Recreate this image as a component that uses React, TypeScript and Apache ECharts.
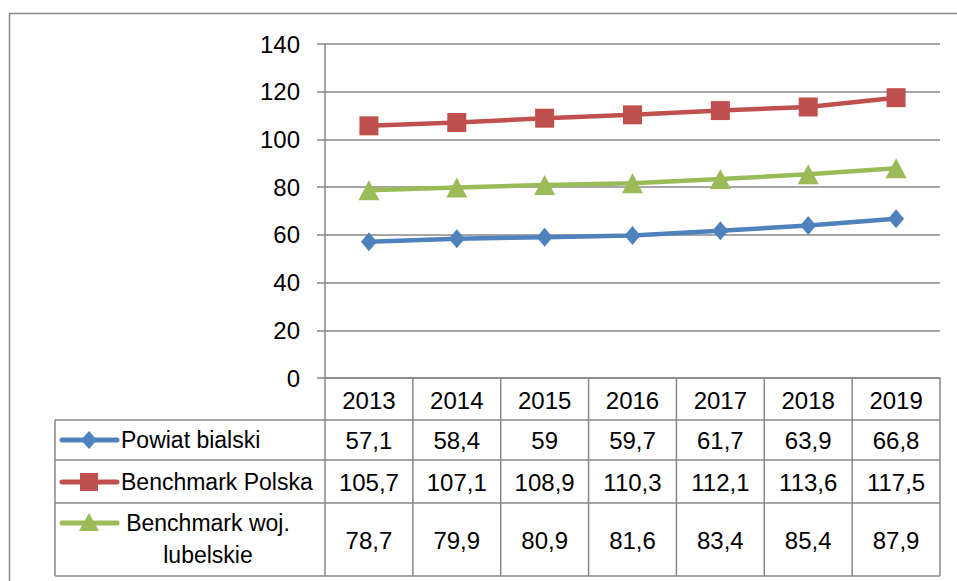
import React, { useEffect, useRef } from "react";
import * as echarts from "echarts";

const categories = ["2013", "2014", "2015", "2016", "2017", "2018", "2019"];
const powiatBialski = [57.1, 58.4, 59, 59.7, 61.7, 63.9, 66.8];
const benchmarkPolska = [105.7, 107.1, 108.9, 110.3, 112.1, 113.6, 117.5];
const benchmarkLubelskie = [78.7, 79.9, 80.9, 81.6, 83.4, 85.4, 87.9];
const seriesNames = ["Powiat bialski", "Benchmark Polska", "Benchmark woj.\nlubelskie"];
const seriesColors = ["#4F81BD", "#C0504D", "#9BBB59"];
const yMin = 0;
const yMax = 140;
const yInterval = 20;

const FONT = "Liberation Sans";
const FS = 23;
const FSN = 24;
const GRID_L = 325;
const GRID_R = 940;
const GRID_T = 44;
const GRID_B = 378;
const TABLE_L = 55;
const ROW_LINES = [420, 460, 503, 576];
const ROW_CENTERS = [440, 482, 540];
const LINE_COLOR = "#888888";

const fmt = (v: number) => String(v).replace(".", ",");

export default function App() {
  const ref = useRef<HTMLDivElement>(null);
  useEffect(() => {
    if (!ref.current) return;
    const chart = echarts.init(ref.current, undefined, { renderer: "svg" });
    const allSeries = [powiatBialski, benchmarkPolska, benchmarkLubelskie];
    const symbols = ["diamond", "rect", "triangle"];
    const symbolSizes: any[] = [[16, 19], 19, [21, 20]];
    const colW = (GRID_R - GRID_L) / categories.length;
    const graphics: any[] = [];
    const stroke = { stroke: LINE_COLOR, lineWidth: 1.5 };
    graphics.push({
      type: "rect",
      silent: true,
      shape: { x: 9.5, y: 13.5, width: 1000, height: 1000 },
      style: { fill: "none", stroke: "#8a8a8a", lineWidth: 1.5 },
    });
    ROW_LINES.forEach((y) => {
      graphics.push({ type: "line", silent: true, shape: { x1: TABLE_L, y1: y, x2: GRID_R, y2: y }, style: stroke });
    });
    graphics.push({ type: "line", silent: true, shape: { x1: TABLE_L, y1: ROW_LINES[0], x2: TABLE_L, y2: ROW_LINES[3] }, style: stroke });
    for (let i = 0; i <= categories.length; i++) {
      const x = GRID_L + i * colW;
      graphics.push({ type: "line", silent: true, shape: { x1: x, y1: GRID_B, x2: x, y2: ROW_LINES[3] }, style: stroke });
    }
    categories.forEach((c, i) => {
      graphics.push({
        type: "text",
        silent: true,
        x: GRID_L + (i + 0.5) * colW,
        y: 400,
        style: { text: c, font: `${FSN}px "${FONT}"`, fill: "#000", align: "center", verticalAlign: "middle" },
      });
    });
    allSeries.forEach((arr, r) => {
      arr.forEach((v, i) => {
        graphics.push({
          type: "text",
          silent: true,
          x: GRID_L + (i + 0.5) * colW,
          y: ROW_CENTERS[r],
          style: { text: fmt(v), font: `${FSN}px "${FONT}"`, fill: "#000", align: "center", verticalAlign: "middle" },
        });
      });
    });
    const keyY = [440, 482, 523];
    seriesColors.forEach((col, r) => {
      const y = keyY[r];
      graphics.push({
        type: "line",
        silent: true,
        shape: { x1: 62, y1: y, x2: 117, y2: y },
        style: { stroke: col, lineWidth: 5, lineCap: "round" },
      });
      const cx = 89;
      if (r === 0) {
        graphics.push({ type: "polygon", silent: true, shape: { points: [[cx, y - 9], [cx + 8, y], [cx, y + 9], [cx - 8, y]] }, style: { fill: col } });
      } else if (r === 1) {
        graphics.push({ type: "rect", silent: true, shape: { x: cx - 9, y: y - 9, width: 18, height: 18 }, style: { fill: col } });
      } else {
        graphics.push({ type: "polygon", silent: true, shape: { points: [[cx, y - 10], [cx + 10, y + 8], [cx - 10, y + 8]] }, style: { fill: col } });
      }
    });
    graphics.push({
      type: "text", silent: true, x: 121, y: 440,
      style: { text: "Powiat bialski", font: `${FS}px "${FONT}"`, fill: "#000", align: "left", verticalAlign: "middle" },
    });
    graphics.push({
      type: "text", silent: true, x: 121, y: 482,
      style: { text: "Benchmark Polska", font: `${FS}px "${FONT}"`, fill: "#000", align: "left", verticalAlign: "middle" },
    });
    graphics.push({
      type: "text", silent: true, x: 208, y: 539,
      style: { text: seriesNames[2], font: `${FS}px "${FONT}"`, lineHeight: 32, fill: "#000", align: "center", verticalAlign: "middle" },
    });

    chart.setOption({
      animation: false,
      backgroundColor: "#ffffff",
      textStyle: { fontFamily: FONT },
      grid: { left: GRID_L, right: 957 - GRID_R, top: GRID_T, bottom: 581 - GRID_B, containLabel: false },
      xAxis: {
        type: "category",
        data: categories,
        boundaryGap: true,
        axisLine: { show: true, lineStyle: { color: LINE_COLOR, width: 1.5 } },
        axisTick: { show: false },
        axisLabel: { show: false },
        splitLine: { show: false },
      },
      yAxis: {
        type: "value",
        min: yMin,
        max: yMax,
        interval: yInterval,
        axisLine: { show: true, lineStyle: { color: LINE_COLOR, width: 1.5 } },
        axisTick: { show: true, length: 8, lineStyle: { color: LINE_COLOR, width: 1.5 } },
        axisLabel: { color: "#000", fontSize: FSN, fontFamily: FONT, margin: 25 },
        splitLine: { show: true, lineStyle: { color: LINE_COLOR, width: 1.5 } },
      },
      series: allSeries.map((arr, i) => ({
        type: "line",
        name: seriesNames[i],
        data: arr,
        symbol: symbols[i],
        symbolSize: symbolSizes[i],
        showSymbol: true,
        lineStyle: { color: seriesColors[i], width: 4.5 },
        itemStyle: { color: seriesColors[i], borderWidth: 0 },
        z: 3 + (2 - i),
      })),
      graphic: graphics,
    });
    return () => chart.dispose();
  }, []);
  return (
    <div
      ref={ref}
      style={{ position: "fixed", left: 0, top: 0, width: 957, height: 581, background: "#fff" }}
    />
  );
}
